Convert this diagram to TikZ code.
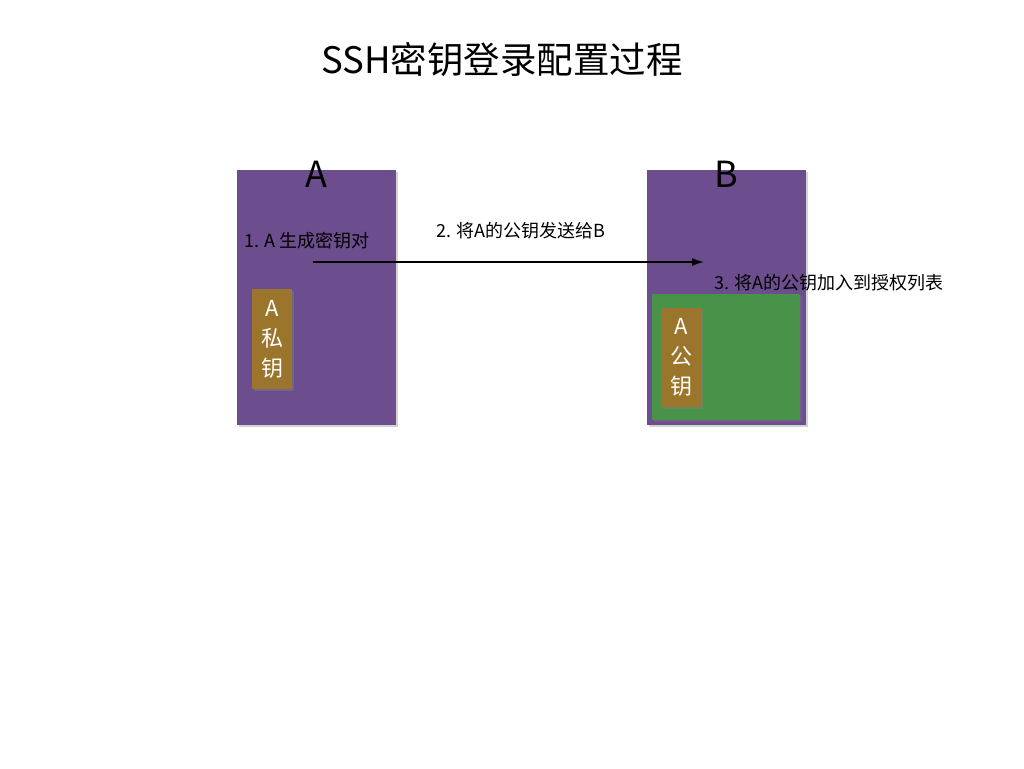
\documentclass[tikz,border=0pt]{standalone}
\usepackage{fontspec}
\setmainfont{Noto Sans CJK SC}
\usetikzlibrary{shadows,arrows.meta}

\definecolor{hostpurple}{RGB}{108,77,141}
\definecolor{authgreen}{RGB}{72,146,74}
\definecolor{keybrown}{RGB}{155,117,43}

\tikzset{
    host/.style={fill=hostpurple, minimum width=159, minimum height=255, inner sep=0,
        drop shadow={shadow xshift=1.5pt, shadow yshift=-1.5pt, opacity=0.35}},
    authlist/.style={fill=authgreen, minimum width=148, minimum height=126, inner sep=0,
        drop shadow={shadow xshift=1.5pt, shadow yshift=-1.5pt, opacity=0.35}},
    keytag/.style={fill=keybrown, text=white, minimum width=40, minimum height=100, inner sep=0,
        align=center, font=\fontsize{22}{30}\selectfont,
        drop shadow={shadow xshift=2pt, shadow yshift=-2pt, opacity=0.45}},
    steplabel/.style={anchor=base west, inner sep=0, font=\fontsize{18}{20}\selectfont},
    hostname/.style={anchor=base, inner sep=0, font=\fontsize{36}{40}\selectfont}
}

\begin{document}
\begin{tikzpicture}[x=1pt, y=-1pt]

    \useasboundingbox (0,0) rectangle (1024,768);

    \node [anchor=base, inner sep=0, font=\fontsize{36.5}{40}\selectfont] (title) at (502,74) {SSH密钥登录配置过程};

    % the two hosts
    \node [host] (hostA) at (316.5,297.5) {};
    \node [host] (hostB) at (726.5,297.5) {};
    \node [hostname] (nameA) at (316,187) {A};
    \node [hostname] (nameB) at (726,187) {B};

    \node [keytag] (privkey) at (272,339) {A\\私\\钥};

    \node [authlist] (authkeys) at (726,357) {};
    \node [keytag, minimum height=99] (pubkey) at (681,357.5) {A\\公\\钥};

    % sending the key
    \coordinate (sendstart) at (313,262);
    \coordinate (sendend) at (704,262);
    \draw [line width=1.7pt, -{Latex[length=12pt, width=8pt]}] (sendstart) -- (sendend);

    \node [steplabel] (step1) at (244,247) {1. A 生成密钥对};
    \node [steplabel] (step2) at (436,237) {2. 将A的公钥发送给B};
    \node [steplabel] (step3) at (714,289) {3. 将A的公钥加入到授权列表};

\end{tikzpicture}
\end{document}
